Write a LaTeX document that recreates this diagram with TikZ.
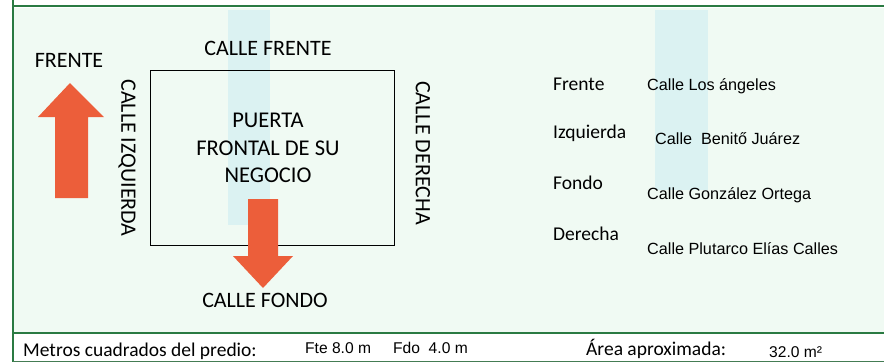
\documentclass[tikz,border=0pt]{standalone}
\usepackage{fontspec}
\setmainfont{Carlito}
\newfontfamily\arialf{Liberation Sans}
\definecolor{formgreen}{RGB}{42,122,66}
\definecolor{arroworange}{RGB}{236,94,58}
\definecolor{wmcyan}{RGB}{170,226,242}
\definecolor{wmgreen}{RGB}{205,238,215}
\begin{document}
\begin{tikzpicture}[x=1pt,y=-1pt,
  label/.style={font=\fontsize{22}{24}\selectfont, inner sep=0pt},
  side/.style={font=\fontsize{19.5}{22}\selectfont, inner sep=0pt, anchor=west},
  val/.style={font=\arialf\fontsize{16.2}{19}\selectfont, inner sep=0pt, anchor=west},
  small/.style={font=\arialf\fontsize{15.6}{18}\selectfont, inner sep=0pt, anchor=west},
  bigarrow/.style={fill=arroworange, draw=none},
  rule/.style={draw=formgreen, line width=2.6pt}]
\useasboundingbox (0,0) rectangle (884,362);
\clip (0,0) rectangle (884,362);
% faint watermark tints
\fill[wmgreen, opacity=0.3] (14,8) rectangle (884,332);
\fill[wmcyan, opacity=0.3] (228,10) rectangle (270,225);
\fill[wmcyan, opacity=0.3] (655,10) rectangle (708,190);
% form rules
\draw[rule] (12,6) -- (884,6);
\draw[rule] (13,0) -- (13,362);
\draw[rule] (13,333) -- (884,333);
\draw[draw=formgreen!70!gray, line width=1.2pt] (13,361.5) -- (884,361.5);
% building outline
\node[draw=black, line width=0.9pt, minimum width=244pt, minimum height=175pt, inner sep=0pt] (lot) at (272,157.5) {};
% arrows
\fill[bigarrow] (70,83) -- (104,117) -- (88,117) -- (88,198) -- (55,198) -- (55,117) -- (38,117) -- cycle;
\fill[bigarrow] (248,199) -- (278,199) -- (278,256) -- (293,256) -- (263,288) -- (233,256) -- (248,256) -- cycle;
% labels on diagram
\node[label] (frente) at (69,60) {FRENTE};
\node[label] (cfrente) at (268,48) {CALLE FRENTE};
\node[label, rotate=-90] (cizq) at (127,158) {CALLE IZQUIERDA};
\node[label, rotate=-90] (cder) at (423,153) {CALLE DERECHA};
\node[label, align=center, font=\fontsize{22.5}{27.5}\selectfont] (puerta) at (268,148) {PUERTA\\FRONTAL DE SU\\NEGOCIO};
\node[label] (cfondo) at (265,300) {CALLE FONDO};
% right column
\node[side] (lfrente) at (553,84) {Frente};
\node[side] (lizq) at (553,133) {Izquierda};
\node[side] (lfondo) at (553,183) {Fondo};
\node[side] (lder) at (553,234) {Derecha};
\node[val] (vfrente) at (647,86) {Calle Los ángeles};
\node[val] (vizq) at (655,139) {Calle\ \ Benitő Juárez};
\node[val] (vfondo) at (647,195) {Calle González Ortega};
\node[val] (vder) at (647,249) {Calle Plutarco Elías Calles};
% bottom row
\node[side] (metros) at (23,351) {Metros cuadrados del predio:};
\node[small] (fte) at (305,348) {Fte 8.0 m};
\node[small] (fdo) at (393,348) {Fdo\ \ 4.0 m};
\node[side] (area) at (586,349) {Área aproximada:};
\node[small] (m2) at (769,352) {32.0 m²};
\end{tikzpicture}
\end{document}
